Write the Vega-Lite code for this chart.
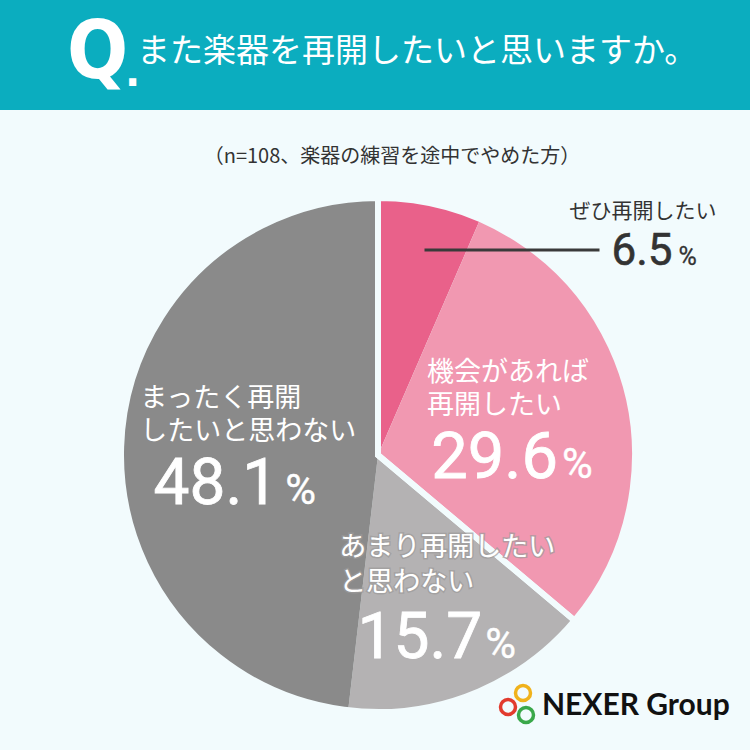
{
  "$schema": "https://vega.github.io/schema/vega-lite/v6.json",
  "background": "#f2fbfd",
  "padding": 0,
  "spacing": 0,
  "bounds": "flush",
  "config": {
    "view": {"stroke": null},
    "concat": {"spacing": 0},
    "text": {"font": "Noto Sans CJK JP", "lineBreak": "\n"}
  },
  "vconcat": [
    {
      "width": 750,
      "height": 110,
      "view": {"fill": "#0badbf", "stroke": null},
      "data": {"values": [{"question": "また楽器を再開したいと思いますか。"}]},
      "layer": [
        {
          "mark": {"type": "text", "font": "DejaVu Sans Condensed", "fontWeight": "bold", "fontSize": 80, "color": "white", "align": "left", "baseline": "alphabetic", "dx": -308, "dy": 23},
          "encoding": {"text": {"value": "Q"}}
        },
        {
          "mark": {"type": "text", "font": "DejaVu Sans", "fontWeight": "bold", "fontSize": 40, "color": "white", "align": "left", "baseline": "alphabetic", "dx": -250, "dy": 31},
          "encoding": {"text": {"value": "."}}
        },
        {
          "mark": {"type": "text", "fontSize": 33, "color": "white", "align": "left", "baseline": "middle", "dx": -238, "dy": -3},
          "encoding": {"text": {"field": "question"}}
        }
      ]
    },
    {
      "width": 750,
      "height": 50,
      "data": {"values": [{"note": "（n=108、楽器の練習を途中でやめた方）"}]},
      "mark": {"type": "text", "fontSize": 20, "color": "#333333", "baseline": "middle", "dx": 17, "dy": 22},
      "encoding": {"text": {"field": "note"}}
    },
    {
      "width": 750,
      "height": 590,
      "data": {
        "values": [
          {"answer": "ぜひ再開したい", "label": "ぜひ再開したい", "pct": 6.5, "order": 1, "intent": "yes"},
          {"answer": "機会があれば再開したい", "label": "機会があれば\n再開したい", "pct": 29.6, "order": 2, "intent": "yes"},
          {"answer": "あまり再開したいと思わない", "label": "あまり再開したい\nと思わない", "pct": 15.7, "order": 3, "intent": "no"},
          {"answer": "まったく再開したいと思わない", "label": "まったく再開\nしたいと思わない", "pct": 48.1, "order": 4, "intent": "no"}
        ]
      },
      "layer": [
        {
          "mark": {"type": "arc", "outerRadius": 257, "xOffset": 3},
          "encoding": {
            "theta": {"field": "pct", "type": "quantitative", "stack": true},
            "order": {"field": "order", "type": "quantitative"},
            "color": {
              "field": "answer", "type": "nominal", "legend": null,
              "scale": {
                "domain": ["ぜひ再開したい", "機会があれば再開したい", "あまり再開したいと思わない", "まったく再開したいと思わない"],
                "range": ["#e9618a", "#f198b1", "#b4b2b3", "#8a8a8a"]
              }
            }
          }
        },
        {
          "transform": [{"aggregate": [{"op": "sum", "field": "pct", "as": "total"}], "groupby": ["intent"]}],
          "mark": {"type": "arc", "outerRadius": 257, "xOffset": 3, "filled": false, "stroke": "#f2fbfd", "strokeWidth": 6},
          "encoding": {
            "theta": {"field": "total", "type": "quantitative", "stack": true},
            "order": {"field": "intent", "type": "nominal", "sort": "descending"}
          }
        },
        {
          "transform": [{"filter": "datum.order === 1"}],
          "mark": {"type": "point", "shape": "M-1,0L1,0", "size": 30625, "filled": false, "stroke": "#3a3a3a", "strokeWidth": 3, "opacity": 1, "xOffset": 137, "yOffset": -205},
          "encoding": {}
        },
        {
          "mark": {"type": "text", "radius": 200, "fontSize": 21, "color": "#333333", "align": "right", "baseline": "middle", "dx": 301, "dy": -47},
          "encoding": {
            "theta": {"field": "pct", "type": "quantitative", "stack": true},
            "order": {"field": "order", "type": "quantitative"},
            "text": {"condition": {"test": "datum.order === 1", "field": "label"}, "value": ""}
          }
        },
        {
          "mark": {"type": "text", "radius": 200, "font": "Roboto", "fontSize": 44, "color": "#333333", "stroke": "#333333", "strokeWidth": 0.6, "align": "right", "baseline": "alphabetic", "dx": 257, "dy": 6},
          "encoding": {
            "theta": {"field": "pct", "type": "quantitative", "stack": true},
            "order": {"field": "order", "type": "quantitative"},
            "text": {"condition": {"test": "datum.order === 1", "field": "pct", "type": "quantitative", "format": ".1f"}, "value": ""}
          }
        },
        {
          "mark": {"type": "text", "radius": 200, "font": "Roboto", "fontSize": 25, "color": "#333333", "stroke": "#333333", "strokeWidth": 0.3, "align": "left", "baseline": "alphabetic", "dx": 263, "dy": 6},
          "encoding": {
            "theta": {"field": "pct", "type": "quantitative", "stack": true},
            "order": {"field": "order", "type": "quantitative"},
            "text": {"condition": {"test": "datum.order === 1", "value": "%"}, "value": ""}
          }
        },
        {
          "mark": {"type": "text", "radius": 150, "fontSize": 27, "lineHeight": 33, "color": "white", "align": "left", "baseline": "middle", "dx": -94, "dy": -48},
          "encoding": {
            "theta": {"field": "pct", "type": "quantitative", "stack": true},
            "order": {"field": "order", "type": "quantitative"},
            "text": {"condition": {"test": "datum.order === 2", "field": "label"}, "value": ""}
          }
        },
        {
          "mark": {"type": "text", "radius": 150, "font": "Roboto", "fontSize": 65, "color": "white", "stroke": "white", "strokeWidth": 0.8, "align": "right", "baseline": "alphabetic", "dx": 37, "dy": 57},
          "encoding": {
            "theta": {"field": "pct", "type": "quantitative", "stack": true},
            "order": {"field": "order", "type": "quantitative"},
            "text": {"condition": {"test": "datum.order === 2", "field": "pct", "type": "quantitative", "format": ".1f"}, "value": ""}
          }
        },
        {
          "mark": {"type": "text", "radius": 150, "font": "Roboto", "fontSize": 42, "color": "white", "stroke": "white", "strokeWidth": 0.4, "align": "left", "baseline": "alphabetic", "dx": 41, "dy": 57},
          "encoding": {
            "theta": {"field": "pct", "type": "quantitative", "stack": true},
            "order": {"field": "order", "type": "quantitative"},
            "text": {"condition": {"test": "datum.order === 2", "value": "%"}, "value": ""}
          }
        },
        {
          "mark": {"type": "text", "radius": 150, "fontSize": 27, "lineHeight": 35, "color": "white", "stroke": "#9c9a9a", "strokeWidth": 3, "strokeOpacity": 0.7, "align": "left", "baseline": "middle", "dx": -91, "dy": -46},
          "encoding": {
            "theta": {"field": "pct", "type": "quantitative", "stack": true},
            "order": {"field": "order", "type": "quantitative"},
            "text": {"condition": {"test": "datum.order === 3", "field": "label"}, "value": ""}
          }
        },
        {
          "mark": {"type": "text", "radius": 150, "fontSize": 27, "lineHeight": 35, "color": "white", "align": "left", "baseline": "middle", "dx": -91, "dy": -46},
          "encoding": {
            "theta": {"field": "pct", "type": "quantitative", "stack": true},
            "order": {"field": "order", "type": "quantitative"},
            "text": {"condition": {"test": "datum.order === 3", "field": "label"}, "value": ""}
          }
        },
        {
          "mark": {"type": "text", "radius": 150, "font": "Roboto", "fontSize": 64, "color": "white", "stroke": "white", "strokeWidth": 0.8, "align": "right", "baseline": "alphabetic", "dx": 52, "dy": 64},
          "encoding": {
            "theta": {"field": "pct", "type": "quantitative", "stack": true},
            "order": {"field": "order", "type": "quantitative"},
            "text": {"condition": {"test": "datum.order === 3", "field": "pct", "type": "quantitative", "format": ".1f"}, "value": ""}
          }
        },
        {
          "mark": {"type": "text", "radius": 150, "font": "Roboto", "fontSize": 42, "color": "white", "stroke": "white", "strokeWidth": 0.4, "align": "left", "baseline": "alphabetic", "dx": 55, "dy": 64},
          "encoding": {
            "theta": {"field": "pct", "type": "quantitative", "stack": true},
            "order": {"field": "order", "type": "quantitative"},
            "text": {"condition": {"test": "datum.order === 3", "value": "%"}, "value": ""}
          }
        },
        {
          "mark": {"type": "text", "radius": 150, "fontSize": 27, "lineHeight": 33, "color": "white", "align": "left", "baseline": "middle", "dx": -85, "dy": -47},
          "encoding": {
            "theta": {"field": "pct", "type": "quantitative", "stack": true},
            "order": {"field": "order", "type": "quantitative"},
            "text": {"condition": {"test": "datum.order === 4", "field": "label"}, "value": ""}
          }
        },
        {
          "mark": {"type": "text", "radius": 150, "font": "Roboto", "fontSize": 64, "color": "white", "stroke": "white", "strokeWidth": 0.8, "align": "right", "baseline": "alphabetic", "dx": 53, "dy": 58},
          "encoding": {
            "theta": {"field": "pct", "type": "quantitative", "stack": true},
            "order": {"field": "order", "type": "quantitative"},
            "text": {"condition": {"test": "datum.order === 4", "field": "pct", "type": "quantitative", "format": ".1f"}, "value": ""}
          }
        },
        {
          "mark": {"type": "text", "radius": 150, "font": "Roboto", "fontSize": 42, "color": "white", "stroke": "white", "strokeWidth": 0.4, "align": "left", "baseline": "alphabetic", "dx": 60, "dy": 58},
          "encoding": {
            "theta": {"field": "pct", "type": "quantitative", "stack": true},
            "order": {"field": "order", "type": "quantitative"},
            "text": {"condition": {"test": "datum.order === 4", "value": "%"}, "value": ""}
          }
        },
        {
          "data": {"values": [{"brand": "NEXER Group"}]},
          "layer": [
            {"mark": {"type": "point", "shape": "circle", "size": 225, "filled": false, "opacity": 1, "stroke": "#f0b21c", "strokeWidth": 3.5, "xOffset": 148, "yOffset": 238}, "encoding": {}},
            {"mark": {"type": "point", "shape": "circle", "size": 225, "filled": false, "opacity": 1, "stroke": "#e23b2e", "strokeWidth": 3.5, "xOffset": 133, "yOffset": 252}, "encoding": {}},
            {"mark": {"type": "point", "shape": "circle", "size": 225, "filled": false, "opacity": 1, "stroke": "#3aa84a", "strokeWidth": 3.5, "xOffset": 151, "yOffset": 260}, "encoding": {}},
            {
              "mark": {"type": "text", "font": "Lato", "fontWeight": "bold", "fontSize": 30, "color": "#111111", "align": "left", "baseline": "alphabetic", "dx": 167, "dy": 260},
              "encoding": {"text": {"field": "brand"}}
            }
          ]
        }
      ]
    }
  ]
}
